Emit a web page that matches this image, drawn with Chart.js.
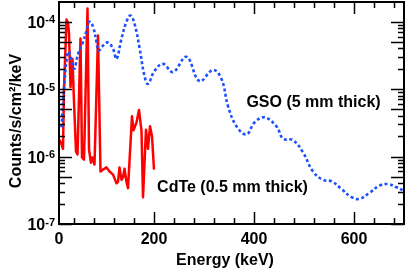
<!DOCTYPE html>
<html>
<head>
<meta charset="utf-8">
<script src="https://cdn.jsdelivr.net/npm/chart.js@4"></script>
<style>
  html, body { margin: 0; padding: 0; background: #fff; }
  #wrap { width: 405px; height: 273px; position: relative; }
</style>
</head>
<body>
<div id="wrap"><canvas id="chart"></canvas></div>
<script>
// GSO (5 mm thick) - blue dotted curve
const gsoEnergy = [15, 21, 26, 30, 40, 48, 58, 65, 71, 78, 85, 89, 98, 108, 118, 125, 135, 145, 153, 161,
  171, 181, 188, 201, 218, 238, 265, 291, 318, 335, 348, 365, 385, 401, 421, 445, 458, 478, 498, 518,
  538, 555, 575, 595, 611, 631, 651, 668, 685, 700];
const gsoFlux = [2.7e-6, 1.27e-5, 3.0e-5, 3.6e-5, 2.0e-5, 3.3e-5, 5.0e-5, 7.3e-5, 1.0e-4, 8.4e-5, 5.0e-5, 3.7e-5, 4.4e-5, 4.9e-5, 3.95e-5, 2.8e-5, 5.6e-5, 1.0e-4, 1.23e-4, 9.3e-5,
  4.1e-5, 1.56e-5, 1.19e-5, 1.86e-5, 2.36e-5, 1.79e-5, 3.0e-5, 1.31e-5, 1.92e-5, 1.41e-5, 5.6e-6, 2.8e-6, 2.13e-6, 3.2e-6, 3.8e-6, 2.8e-6, 1.84e-6, 1.75e-6, 1.15e-6, 6.0e-7,
  4.5e-7, 4.3e-7, 3.3e-7, 2.5e-7, 2.36e-7, 2.9e-7, 3.7e-7, 3.9e-7, 3.5e-7, 3.1e-7];

// CdTe (0.5 mm thick) - red solid curve
const cdteEnergy = [10, 14, 18, 20, 25, 28, 30, 33, 37, 39, 44, 47, 53, 56, 60, 67, 70, 74, 77, 81,
  88, 93, 98, 105, 111, 118, 125, 128, 131, 135, 138, 141, 145, 148, 156, 159, 162, 165, 170, 175,
  178, 184, 188, 192, 196, 200];
const cdteFlux = [1.8e-6, 1.6e-6, 1.3e-6, 1.0e-5, 1.07e-4, 9.7e-5, 6.6e-5, 1.07e-5, 2.8e-5, 1.0e-5, 1.19e-6, 1.07e-6, 5.6e-5, 9.7e-7, 9.0e-7, 1.56e-4, 1.27e-6, 8.1e-7, 9.7e-7, 7.6e-7,
  6.2e-5, 6.0e-7, 6.4e-7, 6.9e-7, 6.0e-7, 5.4e-7, 4.0e-7, 4.2e-7, 6.9e-7, 4.5e-7, 4.9e-7, 6.6e-7, 4.2e-7, 3.4e-7, 3.95e-6, 2.44e-6, 2.8e-6, 3.2e-6, 4.9e-6, 2.4e-6,
  2.5e-7, 2.5e-6, 1.3e-6, 2.8e-6, 2.0e-6, 6.4e-7];

const xTickValues = [10, 200, 400, 600];
const xTickLabels = ['0', '200', '400', '600'];
const yExponents = [-7, -6, -5, -4];

const FONT = "'Liberation Sans', Arial, Helvetica, sans-serif";
Chart.defaults.font.family = FONT;

function toPoints(xs, ys) {
  return xs.map((x, i) => ({ x: x, y: ys[i] }));
}

const axisPlugin = {
  id: 'axisPlugin',
  afterDatasetsDraw(chart) {
    const { ctx, chartArea: a, scales: { x, y } } = chart;
    ctx.save();
    ctx.strokeStyle = '#000';

    // ticks pointing inward
    ctx.lineWidth = 1.5;
    ctx.beginPath();
    for (let v = 40; v < x.max; v += 40) {
      const px = Math.round(x.getPixelForValue(v)) + 0.5;
      const len = v % 200 === 0 ? 12 : 6;
      ctx.moveTo(px, a.bottom); ctx.lineTo(px, a.bottom - len);
      ctx.moveTo(px, a.top); ctx.lineTo(px, a.top + len);
    }
    for (let e = -7; e <= -4; e++) {
      for (let m = 1; m <= 9; m++) {
        const v = m * Math.pow(10, e);
        if (v > y.max) break;
        const py = Math.round(y.getPixelForValue(v)) + 0.5;
        const len = (m === 1 || m === 5) ? 13 : 6;
        ctx.moveTo(a.left, py); ctx.lineTo(a.left + len, py);
        ctx.moveTo(a.right, py); ctx.lineTo(a.right - len, py);
      }
    }
    ctx.stroke();

    // frame
    ctx.lineWidth = 2;
    ctx.strokeRect(a.left, a.top, a.right - a.left, a.bottom - a.top);

    // y tick labels 10^n
    ctx.fillStyle = '#000';
    yExponents.forEach(e => {
      const py = y.getPixelForValue(Math.pow(10, e));
      ctx.font = 'bold 11px ' + FONT;
      ctx.textAlign = 'right';
      ctx.textBaseline = 'alphabetic';
      const ex = String(e);
      const exW = ctx.measureText(ex).width;
      ctx.fillText(ex, a.left - 4, py + 1.5);
      ctx.font = 'bold 16px ' + FONT;
      ctx.fillText('10', a.left - 4 - exW, py + 6);
    });

    // axis titles
    ctx.font = 'bold 16px ' + FONT;
    ctx.textAlign = 'center';
    ctx.textBaseline = 'middle';
    ctx.fillText('Energy (keV)', 225, 261);
    ctx.save();
    ctx.translate(17, 121);
    ctx.rotate(-Math.PI / 2);
    ctx.fillText('Counts/s/cm\u00B2/keV', 0, 0);
    ctx.restore();

    // curve labels
    ctx.fillText('GSO (5 mm thick)', x.getPixelForValue(519), y.getPixelForValue(6.4e-6));
    ctx.fillText('CdTe (0.5 mm thick)', x.getPixelForValue(357), y.getPixelForValue(3.44e-7));
    ctx.restore();
  }
};

new Chart(document.getElementById('chart'), {
  type: 'line',
  data: {
    datasets: [
      {
        label: 'GSO (5 mm thick)',
        data: toPoints(gsoEnergy, gsoFlux),
        borderColor: '#1e50ff',
        borderWidth: 2.6,
        borderDash: [3, 2.5],
        pointRadius: 0,
        tension: 0.4,
        fill: false
      },
      {
        label: 'CdTe (0.5 mm thick)',
        data: toPoints(cdteEnergy, cdteFlux),
        borderColor: '#ff0000',
        borderWidth: 2.5,
        borderJoinStyle: 'round',
        pointRadius: 0,
        tension: 0,
        fill: false
      }
    ]
  },
  options: {
    responsive: true,
    maintainAspectRatio: false,
    animation: false,
    devicePixelRatio: 1,
    layout: { padding: { top: 2, right: 1, left: 0, bottom: 0 } },
    plugins: { legend: { display: false }, tooltip: { enabled: false } },
    scales: {
      x: {
        type: 'linear',
        min: 10,
        max: 700,
        grid: { display: false, drawTicks: false },
        border: { display: false },
        afterBuildTicks: axis => { axis.ticks = xTickValues.map(v => ({ value: v })); },
        afterFit: axis => { axis.height = 49; },
        ticks: {
          autoSkip: false,
          maxRotation: 0,
          padding: 6,
          color: '#000',
          font: { size: 16, weight: 'bold' },
          callback: (v, i) => xTickLabels[i]
        }
      },
      y: {
        type: 'logarithmic',
        min: 1e-7,
        max: 1.95e-4,
        grid: { display: false, drawTicks: false },
        border: { display: false },
        afterFit: axis => { axis.width = 59; },
        ticks: { display: false }
      }
    }
  },
  plugins: [axisPlugin]
});
</script>
</body>
</html>
